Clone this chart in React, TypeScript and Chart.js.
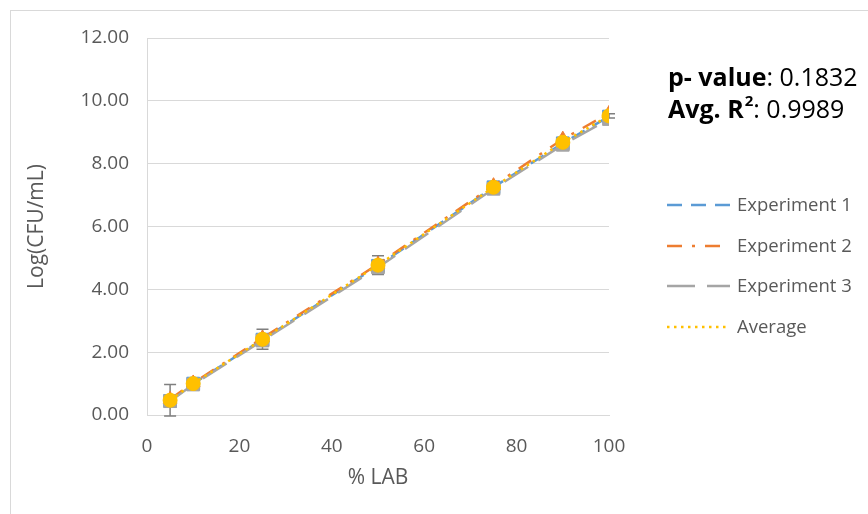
import React, { useEffect, useRef } from "react";
import { Chart, registerables } from "chart.js";

Chart.register(...registerables);

const labPercent = [5, 10, 25, 50, 75, 90, 100];
const experiment1 = [0.45, 1.0, 2.4, 4.75, 7.25, 8.65, 9.5];
const experiment2 = [0.5, 1.02, 2.45, 4.8, 7.3, 8.78, 9.6];
const experiment3 = [0.44, 0.97, 2.37, 4.7, 7.2, 8.6, 9.42];
const average = [0.47, 1.0, 2.41, 4.77, 7.25, 8.68, 9.52];
const averageError = [0.5, 0.05, 0.32, 0.3, 0.06, 0.06, 0.07];
const legendLabels = ["Experiment 1", "Experiment 2", "Experiment 3", "Average"];
const pValueText = "0.1832";
const r2Text = "0.9989";

const FONT = "'Open Sans', sans-serif";
const TXT = "#595959";

const colors = ["#5B9BD5", "#ED7D31", "#A5A5A5", "#FFC000"];
const dashes = [[15, 9], [15, 10, 3, 10], [28, 12], [2.5, 4.5]];

const toXY = (ys: number[]) => labPercent.map((x, i) => ({ x, y: ys[i] }));

const extrasPlugin = {
  id: "extras",
  beforeDatasetsDraw(chart: any) {
    const { ctx, scales } = chart;
    ctx.save();
    ctx.strokeStyle = "#7F7F7F";
    ctx.lineWidth = 1.5;
    labPercent.forEach((xv, i) => {
      const x = scales.x.getPixelForValue(xv);
      const yTop = scales.y.getPixelForValue(average[i] + averageError[i]);
      const yBot = scales.y.getPixelForValue(average[i] - averageError[i]);
      ctx.beginPath();
      ctx.moveTo(x, yTop);
      ctx.lineTo(x, yBot);
      ctx.moveTo(x - 6, yTop);
      ctx.lineTo(x + 6, yTop);
      ctx.moveTo(x - 6, yBot);
      ctx.lineTo(x + 6, yBot);
      ctx.stroke();
    });
    ctx.restore();
  },
  afterDraw(chart: any) {
    const { ctx } = chart;
    ctx.save();
    // annotation
    ctx.textBaseline = "alphabetic";
    ctx.fillStyle = "#000000";
    ctx.font = `bold 25px ${FONT}`;
    let x = 668;
    ctx.fillText("p- value", x, 86);
    x += ctx.measureText("p- value").width;
    ctx.font = `25px ${FONT}`;
    ctx.fillText(": " + pValueText, x, 86);
    x = 668;
    ctx.font = `bold 25px ${FONT}`;
    ctx.fillText("Avg. R", x, 118);
    x += ctx.measureText("Avg. R").width;
    ctx.font = `bold 15px ${FONT}`;
    ctx.fillText("2", x + 1, 106);
    x += ctx.measureText("2").width + 1;
    ctx.font = `25px ${FONT}`;
    ctx.fillText(": " + r2Text, x, 118);
    // legend
    const ys = [205, 246, 286, 327];
    legendLabels.forEach((lab, i) => {
      ctx.strokeStyle = colors[i];
      ctx.lineWidth = 2.5;
      ctx.setLineDash(dashes[i]);
      ctx.beginPath();
      ctx.moveTo(667, ys[i]);
      ctx.lineTo(730, ys[i]);
      ctx.stroke();
      ctx.setLineDash([]);
      ctx.fillStyle = TXT;
      ctx.font = `18.5px ${FONT}`;
      ctx.textBaseline = "middle";
      ctx.fillText(lab, 737, ys[i] + 1);
    });
    ctx.restore();
  },
};

export default function App() {
  const ref = useRef<HTMLCanvasElement | null>(null);
  useEffect(() => {
    if (!ref.current) return;
    const common = { borderWidth: 2.5, pointBorderWidth: 1, fill: false, tension: 0 };
    const chart = new Chart(ref.current, {
      type: "line",
      data: {
        datasets: [
          {
            ...common,
            label: legendLabels[0],
            data: toXY(experiment1),
            borderColor: colors[0],
            backgroundColor: colors[0],
            borderDash: dashes[0],
            pointStyle: "rect",
            pointRadius: 9,
            pointBorderColor: colors[0],
            pointBackgroundColor: colors[0],
            order: 4,
          },
          {
            ...common,
            label: legendLabels[1],
            data: toXY(experiment2),
            borderColor: colors[1],
            backgroundColor: colors[1],
            borderDash: dashes[1],
            pointStyle: "triangle",
            pointRadius: 8,
            pointBorderColor: colors[1],
            pointBackgroundColor: colors[1],
            order: 3,
          },
          {
            ...common,
            label: legendLabels[2],
            data: toXY(experiment3),
            borderColor: colors[2],
            backgroundColor: colors[2],
            borderDash: dashes[2],
            pointStyle: "rect",
            pointRadius: 9,
            pointBorderColor: colors[2],
            pointBackgroundColor: colors[2],
            order: 2,
          },
          {
            ...common,
            label: legendLabels[3],
            data: toXY(average),
            borderColor: colors[3],
            backgroundColor: colors[3],
            borderDash: dashes[3],
            pointStyle: "circle",
            pointRadius: 7,
            pointBorderColor: colors[3],
            pointBackgroundColor: colors[3],
            order: 1,
          },
        ],
      },
      options: {
        animation: false,
        responsive: false,
        devicePixelRatio: 1,
        layout: { padding: { top: 38, right: 259, bottom: 0, left: 0 } },
        plugins: { legend: { display: false }, tooltip: { enabled: false } },
        scales: {
          x: {
            type: "linear",
            min: 0,
            max: 100,
            afterFit: (s: any) => {
              s.height = 99;
            },
            ticks: { stepSize: 20, color: TXT, font: { family: FONT, size: 19 }, padding: 20 },
            grid: { display: false, drawTicks: false },
            border: { display: true, color: "#D9D9D9", width: 1 },
            title: {
              display: true,
              text: "% LAB",
              color: TXT,
              font: { family: FONT, size: 21 },
              padding: { top: 0, bottom: 23 },
            },
          },
          y: {
            min: 0,
            max: 12,
            afterFit: (s: any) => {
              s.width = 147;
            },
            ticks: {
              stepSize: 2,
              color: TXT,
              font: { family: FONT, size: 19 },
              padding: 18,
              callback: (v: any) => Number(v).toFixed(2),
            },
            grid: { color: "#D9D9D9", drawTicks: false },
            border: { display: true, color: "#D9D9D9", width: 1 },
            title: {
              display: true,
              text: "Log(CFU/mL)",
              color: TXT,
              font: { family: FONT, size: 21 },
              padding: { top: 24, bottom: 0 },
            },
          },
        },
      },
      plugins: [extrasPlugin],
    });
    return () => chart.destroy();
  }, []);
  return (
    <div style={{ position: "fixed", left: 0, top: 0, width: 868, height: 514, overflow: "hidden", background: "#fff" }}>
      <div
        style={{
          position: "absolute",
          left: 10,
          top: 10,
          width: 1000,
          height: 1000,
          border: "1px solid #D9D9D9",
        }}
      />
      <canvas ref={ref} width={868} height={514} style={{ position: "absolute", left: 0, top: 0 }} />
    </div>
  );
}
